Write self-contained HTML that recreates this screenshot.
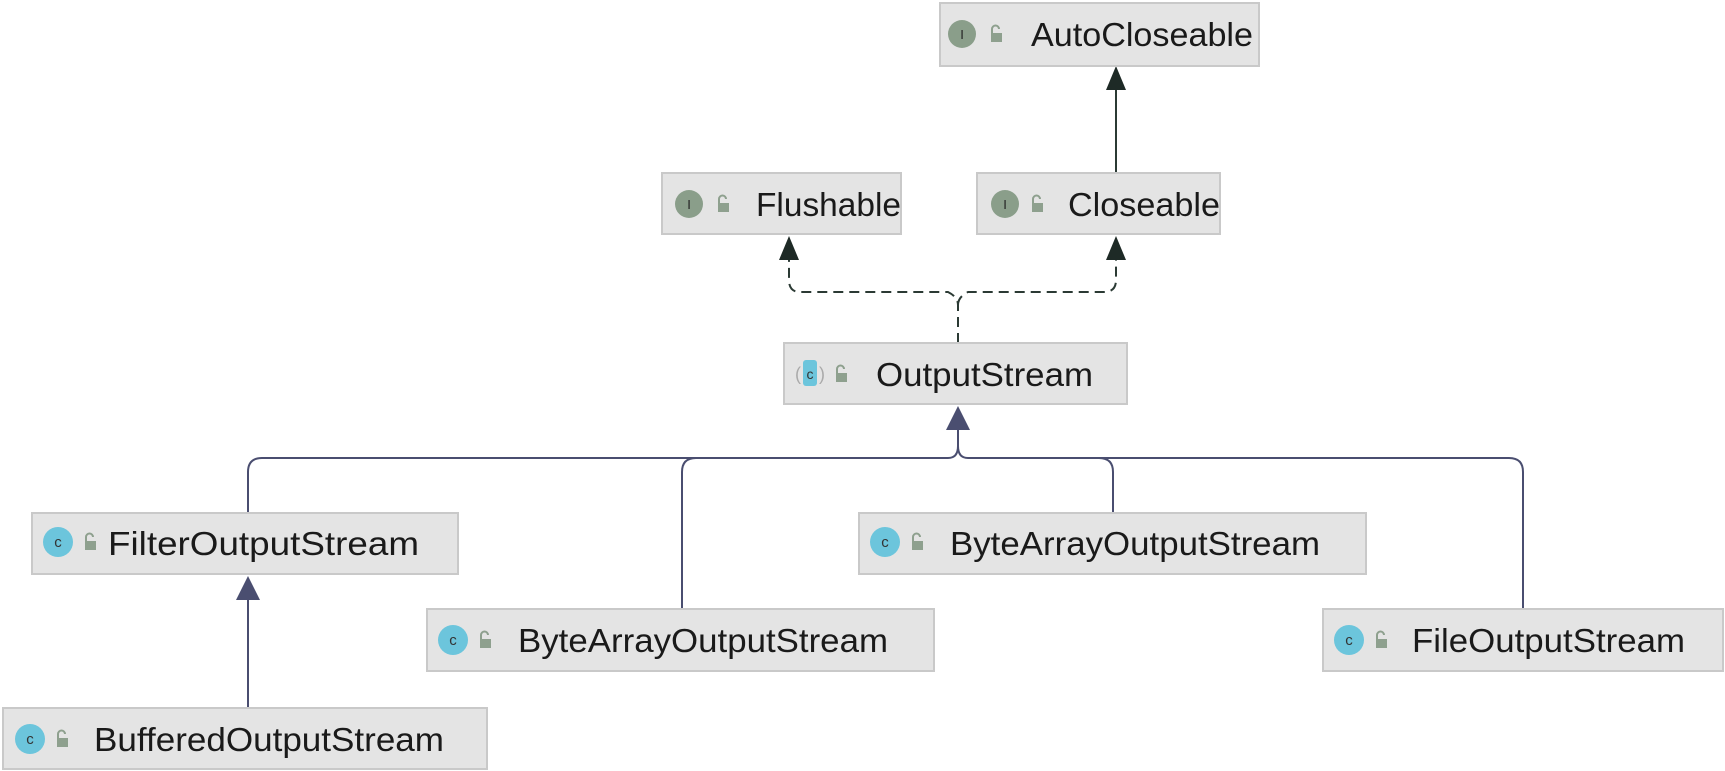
<!DOCTYPE html>
<html><head><meta charset="utf-8"><style>
html,body{margin:0;padding:0;background:#fff;}
svg{display:block;}
text{font-family:"Liberation Sans",sans-serif;}
</style></head><body>
<svg width="1725" height="771" viewBox="0 0 1725 771" xmlns="http://www.w3.org/2000/svg">
<defs>
<g id="lock"><rect x="-5" y="-1" width="11" height="9" fill="#8ea08e"/><path d="M-4,-1 v-4 a3.5,3.5 0 0 1 7,0" fill="none" stroke="#8ea08e" stroke-width="2"/></g>
</defs>
<g fill="none" stroke="#2b3a34" stroke-width="2">
<line x1="1116" y1="173" x2="1116" y2="88"/>
<path d="M958,343 V305 q0,-8 -10,-13 H800 q-11,0 -11,-12 V258" stroke-dasharray="10,6"/>
<path d="M958,305 q0,-8 10,-13 H1104 q12,0 12,-12 V258" stroke-dasharray="10,6"/>
</g>
<g fill="#1e2a26">
<polygon points="1116,66 1106,90 1126,90"/>
<polygon points="789,236 779,260 799,260"/>
<polygon points="1116,236 1106,260 1126,260"/>
</g>
<g fill="none" stroke="#4a4e70" stroke-width="2">
<path d="M248,513 V472 q0,-14 14,-14 H948 q10,0 10,-12 V428"/>
<path d="M682,609 V472 q0,-14 14,-14"/>
<path d="M1113,513 V472 q0,-14 -14,-14 H968 q-10,0 -10,-12"/>
<path d="M1523,609 V472 q0,-14 -14,-14 H1099"/>
<line x1="248" y1="708" x2="248" y2="598"/>
</g>
<g fill="#4a4e70">
<polygon points="958,406 946,430 970,430"/>
<polygon points="248,576 236,600 260,600"/>
</g>
<g fill="#e4e4e4" stroke="#c9c9c9" stroke-width="2">
<rect x="940" y="3" width="319" height="63"/>
<rect x="662" y="173" width="239" height="61"/>
<rect x="977" y="173" width="243" height="61"/>
<rect x="784" y="343" width="343" height="61"/>
<rect x="32" y="513" width="426" height="61"/>
<rect x="859" y="513" width="507" height="61"/>
<rect x="427" y="609" width="507" height="62"/>
<rect x="1323" y="609" width="400" height="62"/>
<rect x="3" y="708" width="484" height="61"/>
</g>
<g>
<circle cx="962" cy="34" r="14" fill="#8a9e8a"/><text x="962" y="39" font-size="13" text-anchor="middle" fill="#222">I</text>
<circle cx="689" cy="204" r="14" fill="#8a9e8a"/><text x="689" y="209" font-size="13" text-anchor="middle" fill="#222">I</text>
<circle cx="1005" cy="204" r="14" fill="#8a9e8a"/><text x="1005" y="209" font-size="13" text-anchor="middle" fill="#222">I</text>
</g>
<g>
<rect x="803" y="360" width="14" height="26" rx="3" fill="#6cc5dc"/><text x="810" y="379" font-size="14" text-anchor="middle" fill="#333">c</text>
<text x="795" y="380" font-size="18" fill="#aaa">(</text><text x="819" y="380" font-size="18" fill="#aaa">)</text>
<circle cx="58" cy="542" r="15" fill="#6cc5dc"/><text x="58" y="547" font-size="15" text-anchor="middle" fill="#333">c</text>
<circle cx="885" cy="542" r="15" fill="#6cc5dc"/><text x="885" y="547" font-size="15" text-anchor="middle" fill="#333">c</text>
<circle cx="453" cy="640" r="15" fill="#6cc5dc"/><text x="453" y="645" font-size="15" text-anchor="middle" fill="#333">c</text>
<circle cx="1349" cy="640" r="15" fill="#6cc5dc"/><text x="1349" y="645" font-size="15" text-anchor="middle" fill="#333">c</text>
<circle cx="30" cy="739" r="15" fill="#6cc5dc"/><text x="30" y="744" font-size="15" text-anchor="middle" fill="#333">c</text>
</g>
<use href="#lock" x="996" y="34"/>
<use href="#lock" x="723" y="204"/>
<use href="#lock" x="1037" y="204"/>
<use href="#lock" x="841" y="374"/>
<use href="#lock" x="90" y="542"/>
<use href="#lock" x="917" y="542"/>
<use href="#lock" x="485" y="640"/>
<use href="#lock" x="1381" y="640"/>
<use href="#lock" x="62" y="739"/>
<g font-size="33" fill="#1a1a1a" lengthAdjust="spacingAndGlyphs">
<text x="1031" y="46" textLength="222" lengthAdjust="spacingAndGlyphs">AutoCloseable</text>
<text x="756" y="216" textLength="145" lengthAdjust="spacingAndGlyphs">Flushable</text>
<text x="1068" y="216" textLength="152" lengthAdjust="spacingAndGlyphs">Closeable</text>
<text x="876" y="386" textLength="217" lengthAdjust="spacingAndGlyphs">OutputStream</text>
<text x="108" y="555" textLength="311" lengthAdjust="spacingAndGlyphs">FilterOutputStream</text>
<text x="950" y="555" textLength="370" lengthAdjust="spacingAndGlyphs">ByteArrayOutputStream</text>
<text x="518" y="652" textLength="370" lengthAdjust="spacingAndGlyphs">ByteArrayOutputStream</text>
<text x="1412" y="652" textLength="273" lengthAdjust="spacingAndGlyphs">FileOutputStream</text>
<text x="94" y="751" textLength="350" lengthAdjust="spacingAndGlyphs">BufferedOutputStream</text>
</g>
</svg>
</body></html>
